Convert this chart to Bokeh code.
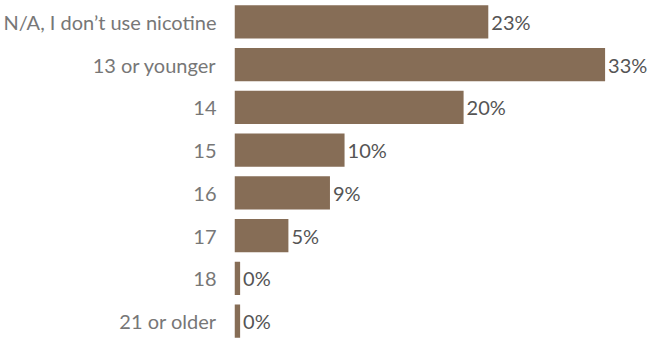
from bokeh.plotting import figure
from bokeh.models import ColumnDataSource, FactorRange, LabelSet
from bokeh.core.properties import value
from bokeh.embed import file_html
from bokeh.resources import INLINE

categories = ["N/A, I don\u2019t use nicotine", "13 or younger", "14", "15", "16", "17", "18", "21 or older"]
values = [22.6, 33.0, 20.4, 9.8, 8.5, 4.8, 0.5, 0.5]
labels = ["23%", "33%", "20%", "10%", "9%", "5%", "0%", "0%"]

src = ColumnDataSource(dict(cat=categories, val=values, lab=labels))

p = figure(width=654, height=342, output_backend="svg", toolbar_location=None,
           y_range=FactorRange(*categories[::-1], range_padding=0),
           x_range=(0, 37.4))
p.hbar(y="cat", right="val", left=0, height=0.78, source=src,
       color="#866D56", line_color=None)
p.add_layout(LabelSet(x="val", y="cat", text="lab", source=src, x_offset=3,
                      text_baseline="middle", text_font=value("Lato"),
                      text_font_size=value("20px"), text_color="#555555"))
p.xaxis.visible = False
p.yaxis.axis_line_color = None
p.yaxis.major_tick_line_color = None
p.yaxis.minor_tick_line_color = None
p.yaxis.major_label_text_font = "Lato"
p.yaxis.major_label_text_font_size = "20px"
p.yaxis.major_label_text_color = "#777777"
p.yaxis.major_label_standoff = 12
p.grid.visible = False
p.outline_line_color = None
p.min_border_top = 0
p.min_border_bottom = 0
p.min_border_right = 0
p.min_border_left = 0

open("out.html", "w").write(file_html(p, INLINE))
